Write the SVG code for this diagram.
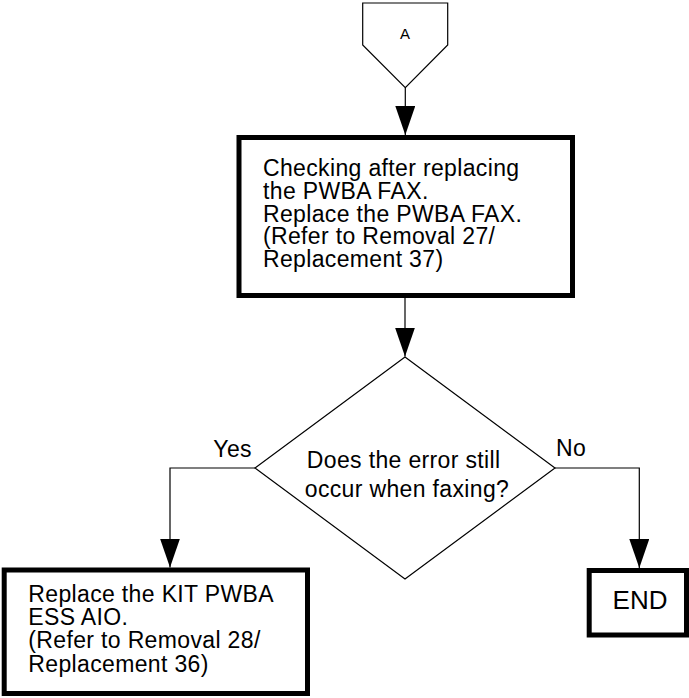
<svg xmlns="http://www.w3.org/2000/svg" width="689" height="698" viewBox="0 0 689 698">
  <style>
    .thin { fill: #fff; stroke: #000; stroke-width: 1.2; }
    .box { fill: #fff; stroke: #000; stroke-width: 5; }
    .wire { fill: none; stroke: #000; stroke-width: 1.2; }
    text { font-family: "Liberation Sans", Arial, sans-serif; fill: #000; }
    .lbl { font-size: 23px; letter-spacing: 0.35px; }
  </style>
  <defs>
    <marker id="head" markerUnits="userSpaceOnUse" markerWidth="30" markerHeight="20" refX="29" refY="10" orient="auto">
      <path d="M0,0 L29,10 L0,20 z" fill="#000"/>
    </marker>
  </defs>
  <rect width="689" height="698" fill="#fff"/>

  <!-- off-page connector A -->
  <g id="connA">
    <path class="thin" d="M362.7,3 H447.7 V45 L405.3,87.7 L362.7,45 Z"/>
    <text x="405" y="39" font-size="15" text-anchor="middle">A</text>
  </g>

  <!-- replace PWBA FAX step -->
  <g id="stepFax">
    <rect class="box" x="239" y="137.5" width="333.5" height="158"/>
    <text class="lbl" x="263" y="175.7">
      <tspan x="263">Checking after replacing</tspan>
      <tspan x="263" dy="22.9">the PWBA FAX.</tspan>
      <tspan x="263" dy="22.9">Replace the PWBA FAX.</tspan>
      <tspan x="263" dy="22.9">(Refer to Removal 27/</tspan>
      <tspan x="263" dy="22.9">Replacement 37)</tspan>
    </text>
  </g>

  <!-- decision -->
  <g id="decision">
    <path class="thin" d="M405,357 L555,468 L405,579 L255,468 Z"/>
    <text class="lbl" x="407" y="468.3" text-anchor="middle">
      <tspan x="407">Does the error still</tspan>
      <tspan x="407" dy="28.4">occur when faxing?</tspan>
    </text>
  </g>

  <!-- replace KIT PWBA ESS AIO step -->
  <g id="stepEss">
    <rect class="box" x="4.2" y="570" width="303.3" height="123.5"/>
    <text class="lbl" x="28.3" y="601.7">
      <tspan x="28.3">Replace the KIT PWBA</tspan>
      <tspan x="28.3" dy="23.3">ESS AIO.</tspan>
      <tspan x="28.3" dy="23.3">(Refer to Removal 28/</tspan>
      <tspan x="28.3" dy="23.3">Replacement 36)</tspan>
    </text>
  </g>

  <!-- terminator -->
  <g id="end">
    <rect class="box" x="589.2" y="570.5" width="97.3" height="64.5"/>
    <text x="640" y="609.3" font-size="26" text-anchor="middle">END</text>
  </g>

  <!-- connectors -->
  <g id="connectors">
    <path class="wire" d="M405.3,87.7 V135" marker-end="url(#head)"/>
    <path class="wire" d="M405,298 V356.5" marker-end="url(#head)"/>
    <path class="wire" d="M255,468 H170 V567.5" marker-end="url(#head)"/>
    <path class="wire" d="M555,468 H639.3 V568" marker-end="url(#head)"/>
    <text class="lbl" x="213.3" y="456.7">Yes</text>
    <text class="lbl" x="556" y="456">No</text>
  </g>
</svg>
